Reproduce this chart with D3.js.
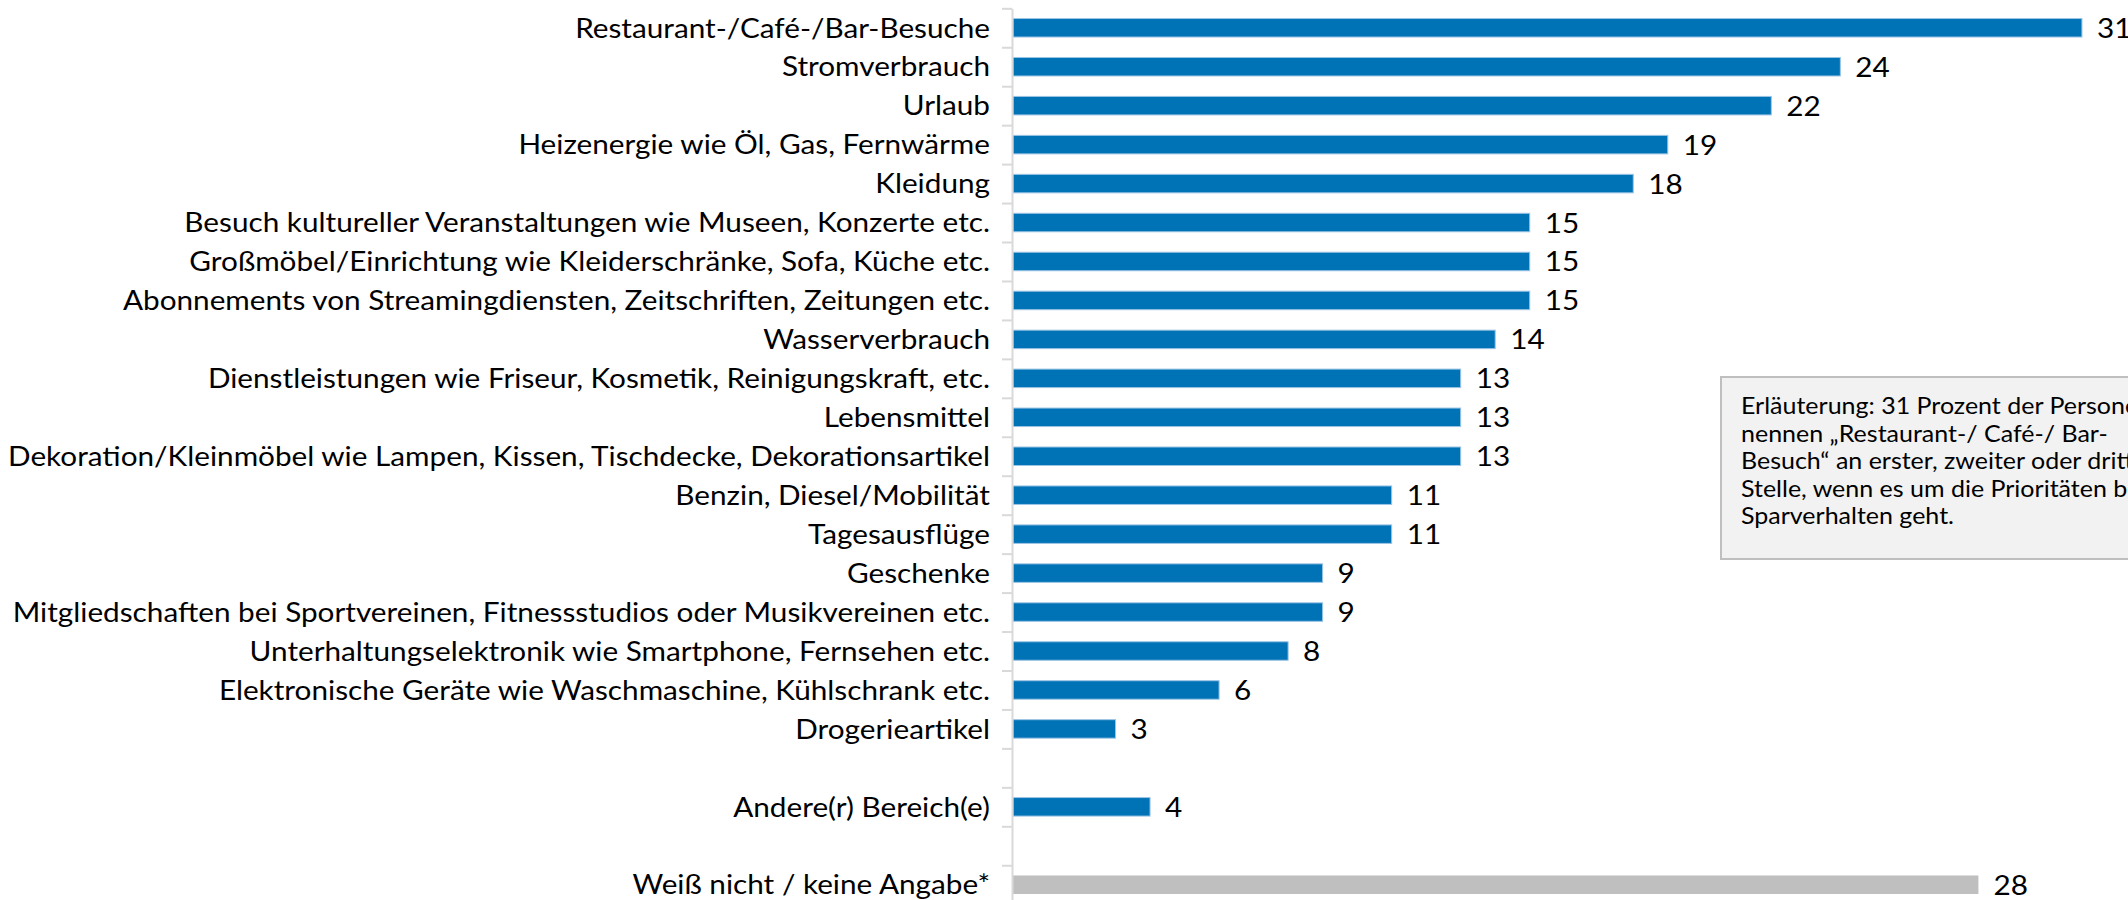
<!DOCTYPE html>
<html>
<head>
<meta charset="utf-8">
<script src="https://cdn.jsdelivr.net/npm/d3@7/dist/d3.min.js"></script>
<style>
  html, body { margin: 0; padding: 0; background: #ffffff; overflow: hidden; }
  svg { display: block; }
  text { font-family: Lato, "Open Sans", "Noto Sans", sans-serif; fill: #000000; }
</style>
</head>
<body>
<svg id="chart" width="2128" height="900"></svg>
<script>
// Spar-Prioritäten: Anteil der Nennungen in Prozent (leere Einträge = Abstandszeilen)
const categories = [
  "Restaurant-/Café-/Bar-Besuche",
  "Stromverbrauch",
  "Urlaub",
  "Heizenergie wie Öl, Gas, Fernwärme",
  "Kleidung",
  "Besuch kultureller Veranstaltungen wie Museen, Konzerte etc.",
  "Großmöbel/Einrichtung wie Kleiderschränke, Sofa, Küche etc.",
  "Abonnements von Streamingdiensten, Zeitschriften, Zeitungen etc.",
  "Wasserverbrauch",
  "Dienstleistungen wie Friseur, Kosmetik, Reinigungskraft, etc.",
  "Lebensmittel",
  "Dekoration/Kleinmöbel wie Lampen, Kissen, Tischdecke, Dekorationsartikel",
  "Benzin, Diesel/Mobilität",
  "Tagesausflüge",
  "Geschenke",
  "Mitgliedschaften bei Sportvereinen, Fitnessstudios oder Musikvereinen etc.",
  "Unterhaltungselektronik wie Smartphone, Fernsehen etc.",
  "Elektronische Geräte wie Waschmaschine, Kühlschrank etc.",
  "Drogerieartikel",
  "",
  "Andere(r) Bereich(e)",
  "",
  "Weiß nicht / keine Angabe*"
];

const values = [31, 24, 22, 19, 18, 15, 15, 15, 14, 13, 13, 13, 11, 11, 9, 9, 8, 6, 3, null, 4, null, 28];

// Antwortkategorien, die grau statt blau dargestellt werden
const neutralCategories = ["Weiß nicht / keine Angabe*"];

const xDomain = [0, 35];

const noteLines = [
  "Erläuterung: 31 Prozent der Personen",
  "nennen \u201ERestaurant-/ Café-/ Bar-",
  "Besuch\u201C an erster, zweiter oder dritter",
  "Stelle, wenn es um die Prioritäten beim",
  "Sparverhalten geht."
];

// ---- Layout ----
const svg = d3.select("#chart");
const plot = { left: 1012, top: 8.3, right: 2220, bottom: 904.2 };

const rows = d3.range(categories.length);

const y = d3.scaleBand()
  .domain(rows)
  .range([plot.top, plot.bottom])
  .paddingInner(0.525)
  .paddingOuter(0.2625);

const yEdge = d3.scaleLinear()
  .domain([0, categories.length])
  .range([plot.top, plot.bottom]);

const x = d3.scaleLinear()
  .domain(xDomain)
  .range([plot.left, plot.right]);

const blue = "#0073b7";
const grey = "#bfbfbf";
const axisColor = "#d9d9d9";

// Set a text element to a condensed width
function condenseText(sel, factor) {
  sel.each(function () {
    const w = this.getComputedTextLength();
    if (w > 0) {
      d3.select(this)
        .attr("textLength", w * factor)
        .attr("lengthAdjust", "spacingAndGlyphs");
    }
  });
}

// ---- Bars ----
const barData = rows.filter(i => values[i] != null);

svg.append("g")
  .selectAll("rect")
  .data(barData)
  .join("rect")
  .attr("x", x(0) + 1)
  .attr("y", i => y(i))
  .attr("width", i => x(values[i]) - x(0) - 1)
  .attr("height", y.bandwidth())
  .attr("fill", i => neutralCategories.includes(categories[i]) ? grey : blue)
  .attr("stroke", i => neutralCategories.includes(categories[i]) ? "none" : "#9cc4e4")
  .attr("stroke-width", 1);

// ---- Category axis: boundary ticks ----
const edgeAxis = svg.append("g")
  .attr("transform", `translate(${plot.left},0)`)
  .call(d3.axisLeft(yEdge)
    .tickValues(d3.range(categories.length + 1))
    .tickFormat("")
    .tickSize(10)
    .tickSizeOuter(0));
edgeAxis.selectAll("path, line")
  .attr("stroke", axisColor)
  .attr("stroke-width", 2);

// ---- Category labels ----
const labelAxis = svg.append("g")
  .attr("transform", `translate(${plot.left},0)`)
  .call(d3.axisLeft(y)
    .tickFormat(i => categories[i])
    .tickSize(0)
    .tickPadding(22));
labelAxis.select(".domain").remove();
labelAxis.selectAll("text")
  .attr("font-family", 'Lato, "Open Sans", sans-serif')
  .attr("font-size", 27)
  .attr("fill", "#000")
  .attr("dy", "0.36em");

let longest = 0;
labelAxis.selectAll("text").each(function () {
  longest = Math.max(longest, this.getComputedTextLength());
});
const condense = longest > 0 ? 982 / longest : 1;
condenseText(labelAxis.selectAll("text"), condense);

// ---- Value labels ----
svg.append("g")
  .selectAll("text")
  .data(barData)
  .join("text")
  .attr("x", i => x(values[i]) + 15)
  .attr("y", i => y(i) + y.bandwidth() / 2)
  .attr("dy", "0.37em")
  .attr("font-size", 27)
  .text(i => d3.format("d")(values[i]))
  .call(condenseText, condense);

// ---- Note box ----
const note = svg.append("g").attr("transform", "translate(1721,377)");
note.append("rect")
  .attr("width", 520)
  .attr("height", 182)
  .attr("fill", "#f2f2f2")
  .attr("stroke", "#bfbfbf")
  .attr("stroke-width", 2);
const noteText = note.selectAll("text")
  .data(noteLines)
  .join("text")
  .attr("x", 20)
  .attr("y", (d, i) => 37 + i * 27.5)
  .attr("font-size", 23.5)
  .text(d => d);

let lastW = 0;
noteText.filter((d, i) => i === noteLines.length - 1).each(function () {
  lastW = this.getComputedTextLength();
});
condenseText(noteText, lastW > 0 ? 213 / lastW : 1);
</script>
</body>
</html>
